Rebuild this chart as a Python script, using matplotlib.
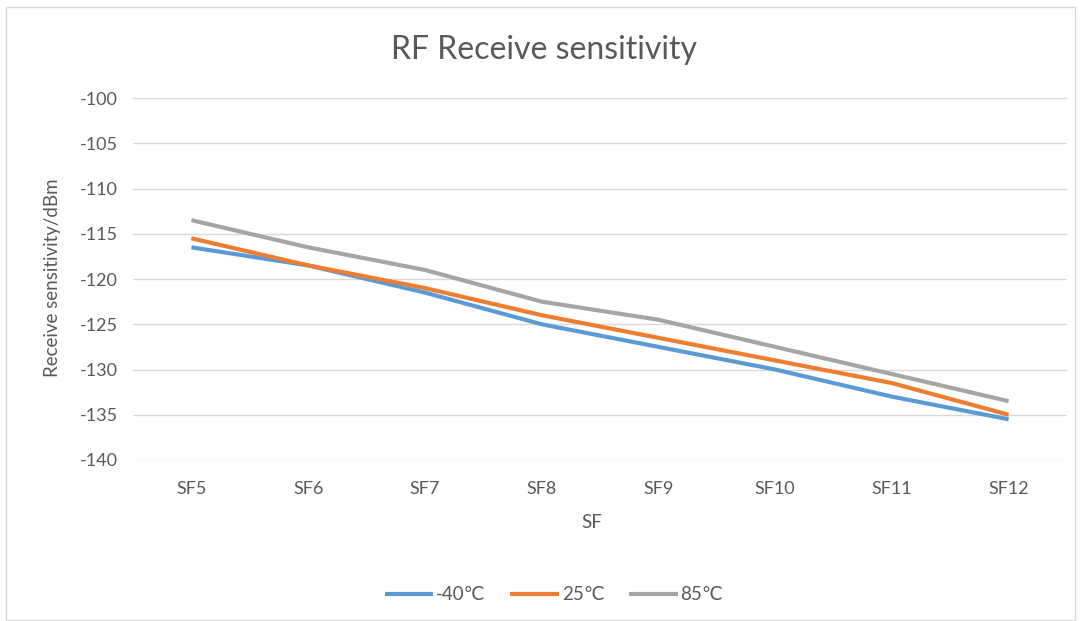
import matplotlib.pyplot as plt
from matplotlib.patches import Rectangle

categories = ["SF5", "SF6", "SF7", "SF8", "SF9", "SF10", "SF11", "SF12"]
minus40 = [-116.5, -118.5, -121.5, -125, -127.5, -130, -133, -135.5]
plus25 = [-115.5, -118.5, -121, -124, -126.5, -129, -131.5, -135]
plus85 = [-113.5, -116.5, -119, -122.5, -124.5, -127.5, -130.5, -133.5]
series_labels = ["-40\u2103", "25\u2103", "85\u2103"]
yticks = [-100, -105, -110, -115, -120, -125, -130, -135, -140]

plt.rcParams["font.family"] = ["Lato", "DejaVu Sans"]
plt.rcParams["axes.unicode_minus"] = False
text_color = "#595959"

fig = plt.figure(figsize=(10.81, 6.21), dpi=100)
fig.patches.append(Rectangle((6 / 1081, 0.002), 1069 / 1081, 1 - 8 / 621,
                             transform=fig.transFigure, fill=False,
                             edgecolor="#D9D9D9", linewidth=1))

ax = fig.add_axes([133 / 1081, 1 - 460 / 621, 934 / 1081, 362 / 621])
x = list(range(len(categories)))
colors = ["#5B9BD5", "#ED7D31", "#A5A5A5"]
for vals, lab, c in zip([minus40, plus25, plus85], series_labels, colors):
    ax.plot(x, vals, color=c, linewidth=3, label=lab, solid_capstyle="butt")

ax.set_xlim(-0.5, len(categories) - 0.5)
ax.set_ylim(-140, -100)
ax.set_yticks(yticks)
ax.set_xticks(x)
ax.set_xticklabels(categories)
ax.tick_params(axis="both", length=0, labelsize=13, colors=text_color)
ax.tick_params(axis="x", pad=15)
ax.tick_params(axis="y", pad=11)
ax.grid(axis="y", color="#D9D9D9", linewidth=1)
ax.set_axisbelow(True)
for s in ax.spines.values():
    s.set_visible(False)

fig.text(544 / 1081, 1 - 50 / 621, "RF Receive sensitivity", ha="center", va="center",
         fontsize=23, color=text_color)
fig.text(53 / 1081, 1 - 278 / 621, "Receive sensitivity/dBm", ha="center", va="center",
         rotation=90, fontsize=13.5, color=text_color)
fig.text(592 / 1081, 1 - 523 / 621, "SF", ha="center", va="center",
         fontsize=13.5, color=text_color)

leg = fig.legend(loc="center", bbox_to_anchor=(554 / 1081, 1 - 595 / 621), ncol=3,
                 frameon=False, fontsize=13.5, handlelength=2.6, handletextpad=0.15,
                 columnspacing=1.3)
for t in leg.get_texts():
    t.set_color(text_color)

fig.savefig("out.png", dpi=100)
